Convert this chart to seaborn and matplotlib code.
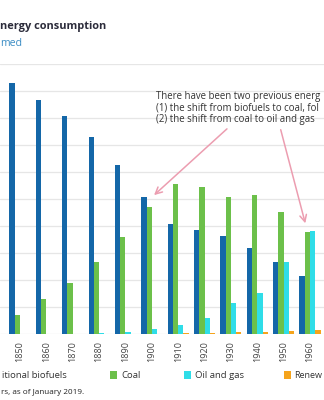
import matplotlib
matplotlib.use("Agg")
import matplotlib.pyplot as plt
import seaborn as sns
import pandas as pd
from matplotlib.patches import Rectangle

years = ["1850", "1860", "1870", "1880", "1890", "1900",
         "1910", "1920", "1930", "1940", "1950", "1960"]
sources = ["Traditional biofuels", "Coal", "Oil and gas", "Renewables"]
biofuels = [92.8, 86.7, 80.9, 72.8, 62.5, 50.9, 40.7, 38.5, 36.3, 32.0, 26.6, 21.6]
coal = [7.0, 13.0, 18.8, 26.6, 36.0, 47.0, 55.4, 54.6, 50.9, 51.5, 45.0, 37.9]
oil_gas = [0.0, 0.0, 0.0, 0.2, 0.9, 1.7, 3.2, 5.9, 11.6, 15.3, 26.7, 38.1]
renewables = [0.0, 0.0, 0.0, 0.0, 0.0, 0.0, 0.3, 0.4, 0.6, 0.8, 1.1, 1.6]
colors = ["#1467a8", "#6cc04a", "#2fdde8", "#f5a41c"]

# Visible (cropped) texts of the reference
title_txt = "nergy consumption"
subtitle_txt = "med"
note_lines = ["There have been two previous energ",
              "(1) the shift from biofuels to coal, fol",
              "(2) the shift from coal to oil and gas"]
legend_labels = ["itional biofuels", "Coal", "Oil and gas", "Renew"]
footnote_txt = "rs, as of January 2019."

rows = []
for src, vals in zip(sources, [biofuels, coal, oil_gas, renewables]):
    for y, v in zip(years, vals):
        rows.append({"year": y, "source": src, "share": v})
df = pd.DataFrame(rows)

sns.set_theme(style="white")
plt.rcParams["font.family"] = ["Open Sans", "DejaVu Sans"]

W, H = 324, 400
fig = plt.figure(figsize=(W / 100, H / 100), dpi=100)
ax = fig.add_axes([0, (H - 334) / H, 1, (334 - 64) / H])

sns.barplot(data=df, x="year", y="share", hue="source", hue_order=sources,
            order=years, palette=colors, saturation=1, width=0.8,
            legend=False, ax=ax, linewidth=0)

ax.set_xlim(-0.76, 11.53)
ax.set_ylim(0, 100)
ax.set_yticks(range(0, 101, 10))
ax.yaxis.grid(True, color="#e6e6e6", linewidth=0.9)
ax.set_axisbelow(True)
for s in ax.spines.values():
    s.set_visible(False)
ax.set_xlabel("")
ax.set_ylabel("")
ax.set_yticklabels([])
ax.tick_params(axis="y", length=0)
ax.tick_params(axis="x", length=0, pad=5, labelsize=6.5, labelcolor="#444444")
for lbl in ax.get_xticklabels():
    lbl.set_rotation(90)

def px(x, y):
    return x / W, 1 - y / H

# Title and subtitle (cropped on the left in the reference)
fig.text(*px(0.5, 27), title_txt, ha="left", va="center",
         fontsize=7.9, fontweight="bold", color="#2b2b3a")
fig.text(*px(0.5, 43), subtitle_txt, ha="left", va="center",
         fontsize=7.6, color="#3a8cc4")

# Annotation
for i, line in enumerate(note_lines):
    fig.text(*px(156, 96 + 11.8 * i), line, ha="left", va="center", fontsize=6.9,
             color="#333333")
arrow_kw = dict(arrowstyle="->", color="#ec9db0", lw=1.1, mutation_scale=12)
ax.annotate("", xy=px(152, 197), xycoords="figure fraction",
            xytext=px(229, 127), textcoords="figure fraction", arrowprops=arrow_kw)
ax.annotate("", xy=px(306, 226), xycoords="figure fraction",
            xytext=px(280, 127), textcoords="figure fraction", arrowprops=arrow_kw)

# Legend (cropped)
leg_y = 375
patch_x = [None, 110, 184, 284]
for x0, label, c in zip(patch_x, legend_labels, colors):
    if x0 is None:
        fig.text(*px(67, leg_y), label, ha="right", va="center", fontsize=6.8, color="#333333")
        continue
    fig.patches.append(Rectangle(px(x0, leg_y + 4), 7 / W, 8 / H, transform=fig.transFigure,
                                 facecolor=c, edgecolor="none"))
    if label == legend_labels[-1]:
        fig.text(*px(322.5, leg_y), label, ha="right", va="center", fontsize=6.5, color="#333333")
    else:
        fig.text(*px(x0 + 11, leg_y), label, ha="left", va="center", fontsize=6.8, color="#333333")

# Footnote
fig.text(*px(84, 392), footnote_txt, ha="right", va="center", fontsize=5.9, color="#222222")

fig.savefig("out.png", dpi=100)
